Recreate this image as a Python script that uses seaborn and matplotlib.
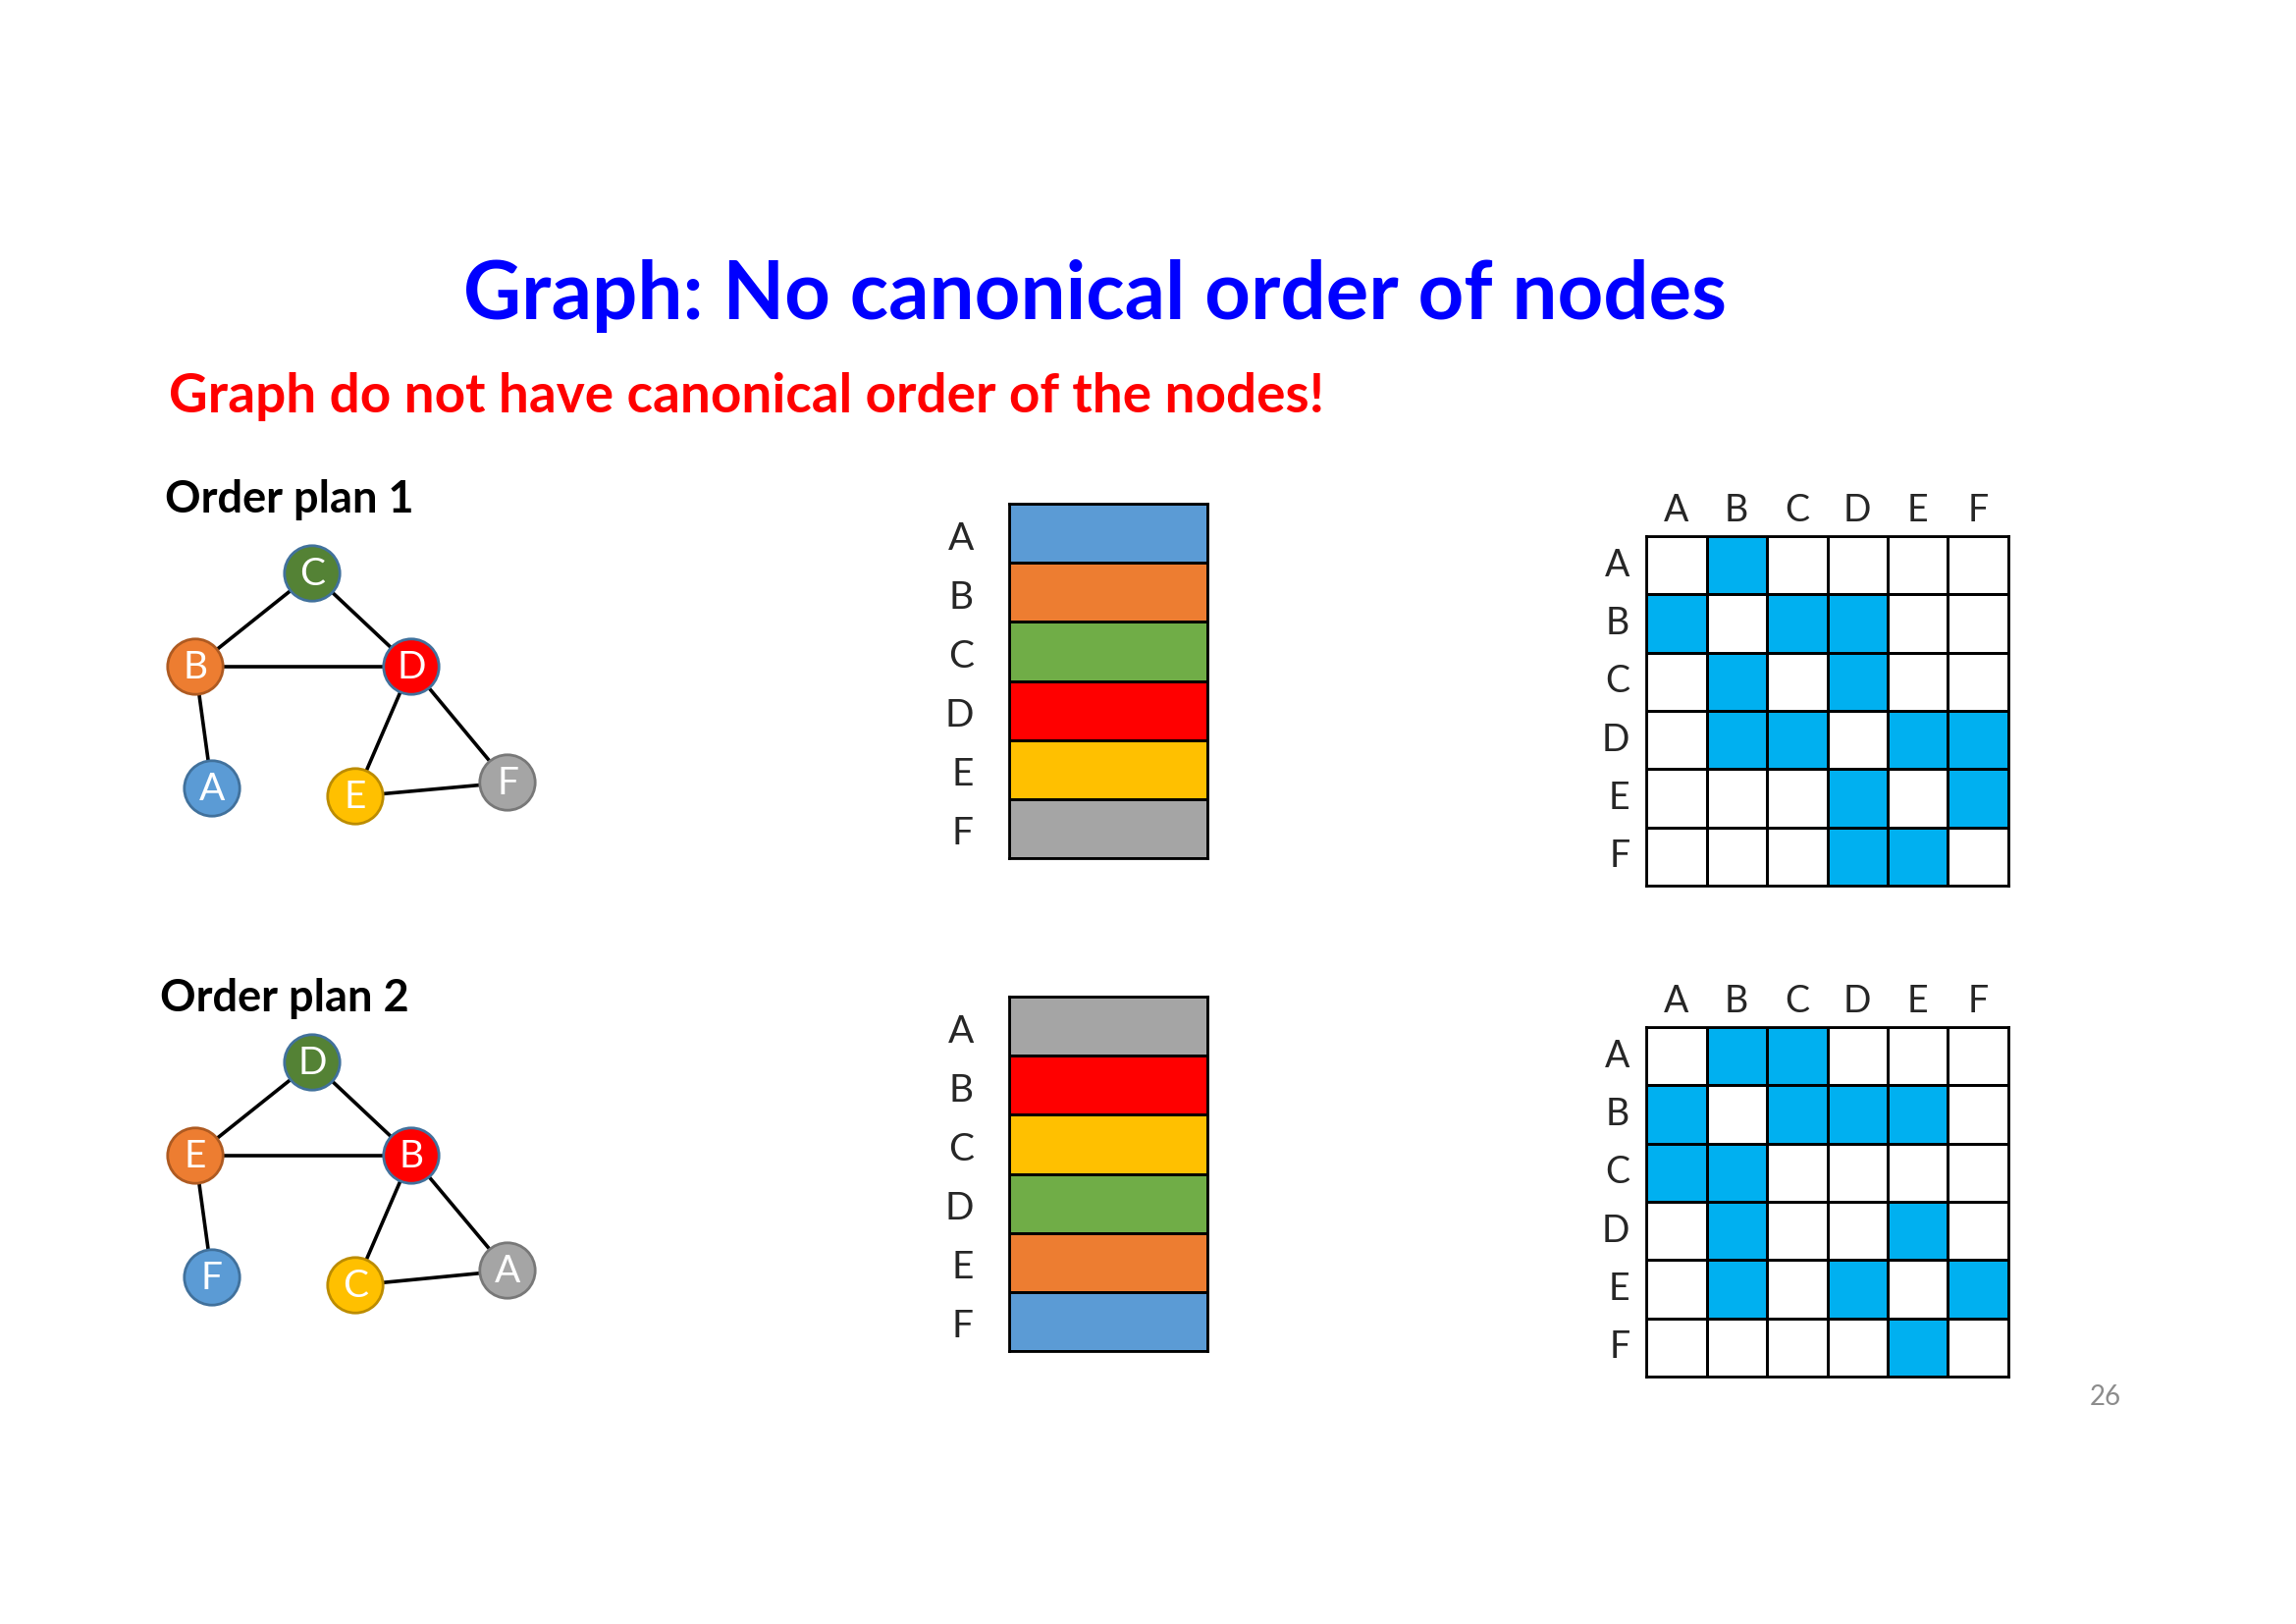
#!/usr/bin/env python3
"""
Slide: graph has no canonical node order (two orderings, feature stacks, adjacency matrices)
"""

import matplotlib
matplotlib.use('Agg')
import matplotlib.pyplot as plt
import matplotlib.transforms as mtransforms
from matplotlib.colors import ListedColormap
import seaborn as sns
import numpy as np
import pandas as pd

sns.set_theme(style='white')
plt.rcParams['font.family'] = ['Lato', 'DejaVu Sans']

W, H = 2339, 1654

# --- data ---------------------------------------------------------------
labels = ['A', 'B', 'C', 'D', 'E', 'F']

# node layout (same drawing for both plans, only the names change)
node_x = [318, 199, 419, 216, 362, 517]
node_y1 = [584, 679, 679, 803, 811, 797]
node_y2 = [1082, 1177, 1177, 1301, 1309, 1294]
node_fill = ['#548235', '#ED7D31', '#FF0000', '#5B9BD5', '#FFC000', '#A5A5A5']
node_edge = ['#41719C', '#AE5A21', '#41719C', '#41719C', '#BC8C00', '#787878']

names1 = ['C', 'B', 'D', 'A', 'E', 'F']
names2 = ['D', 'E', 'B', 'F', 'C', 'A']
edges1 = [('C', 'B'), ('C', 'D'), ('B', 'D'), ('B', 'A'), ('D', 'E'), ('D', 'F'), ('E', 'F')]
edges2 = [('D', 'E'), ('D', 'B'), ('E', 'B'), ('E', 'F'), ('B', 'C'), ('B', 'A'), ('C', 'A')]

# feature stacks (row A..F)
stack1 = ['#5B9BD5', '#ED7D31', '#70AD47', '#FF0000', '#FFC000', '#A5A5A5']
stack2 = ['#A5A5A5', '#FF0000', '#FFC000', '#70AD47', '#ED7D31', '#5B9BD5']

# adjacency matrices, rows/cols A..F
adj1 = [[0, 1, 0, 0, 0, 0],
        [1, 0, 1, 1, 0, 0],
        [0, 1, 0, 1, 0, 0],
        [0, 1, 1, 0, 1, 1],
        [0, 0, 0, 1, 0, 1],
        [0, 0, 0, 1, 1, 0]]
adj2 = [[0, 1, 1, 0, 0, 0],
        [1, 0, 1, 1, 1, 0],
        [1, 1, 0, 0, 0, 0],
        [0, 1, 0, 0, 1, 0],
        [0, 1, 0, 1, 0, 1],
        [0, 0, 0, 0, 1, 0]]

title = 'Graph: No canonical order of nodes'
subtitle = 'Graph do not have canonical order of the nodes!'


def box(x0, y0, x1, y1):
    """pixel box (top-left origin) -> figure fraction rect"""
    return [x0 / W, 1 - y1 / H, (x1 - x0) / W, (y1 - y0) / H]


def draw_graph(ax, names, ys, edges):
    pos = {n: (x, y) for n, x, y in zip(names, node_x, ys)}
    for a, b in edges:
        ax.plot([pos[a][0], pos[b][0]], [pos[a][1], pos[b][1]],
                color='black', lw=2.6, zorder=1, solid_capstyle='butt')
    df = pd.DataFrame({'x': node_x, 'y': ys, 'name': names})
    sns.scatterplot(data=df, x='x', y='y', hue='name',
                    palette=dict(zip(names, node_fill)), s=1650,
                    linewidth=2, legend=False, ax=ax, zorder=2)
    ax.collections[-1].set_edgecolors(node_edge)
    for n, x, y in zip(names, node_x, ys):
        ax.text(x, y + 1, n, color='white', fontsize=28, ha='center',
                va='center', zorder=3)


def outline(ax):
    for s in ax.spines.values():
        s.set_visible(True)
        s.set_linewidth(2)
        s.set_color('black')


def draw_stack(rect, colors):
    ax = fig.add_axes(rect)
    sns.heatmap(np.arange(6).reshape(6, 1), cmap=ListedColormap(colors),
                cbar=False, linewidths=2, linecolor='black',
                xticklabels=False, yticklabels=labels, ax=ax)
    ax.tick_params(axis='y', length=0, labelsize=28, pad=26, rotation=0)
    shift = mtransforms.ScaledTranslation(0, -4 / 72, fig.dpi_scale_trans)
    for t in ax.get_yticklabels():
        t.set_transform(t.get_transform() + shift)
    outline(ax)


def draw_matrix(rect, adj):
    ax = fig.add_axes(rect)
    sns.heatmap(np.array(adj), cmap=ListedColormap(['white', '#00B0F0']),
                vmin=0, vmax=1, cbar=False, linewidths=2, linecolor='black',
                xticklabels=labels, yticklabels=labels, ax=ax)
    ax.xaxis.tick_top()
    ax.tick_params(axis='x', length=0, labelsize=27, pad=6, rotation=0)
    ax.tick_params(axis='y', length=0, labelsize=27, pad=12, rotation=0)
    outline(ax)


fig = plt.figure(figsize=(W / 100, H / 100), dpi=100)
bg = fig.add_axes([0, 0, 1, 1])

draw_graph(bg, names1, node_y1, edges1)
draw_graph(bg, names2, node_y2, edges2)
bg.set_xlim(0, W)
bg.set_ylim(H, 0)
bg.axis('off')

bg.text(472, 325, title, color='#0000FF', fontsize=58.7, fontweight='bold',
        ha='left', va='baseline')
bg.text(172, 420, subtitle, color='#FF0000', fontsize=39.5, fontweight='bold',
        ha='left', va='baseline')
bg.text(168, 522, 'Order plan 1', color='black', fontsize=32.5, fontweight='bold',
        ha='left', va='baseline')
bg.text(163, 1030, 'Order plan 2', color='black', fontsize=32.5, fontweight='bold',
        ha='left', va='baseline')
bg.text(2145, 1423, '26', color='#8C8C8C', fontsize=20, ha='center', va='center')

draw_stack(box(1028, 513, 1230, 874), stack1)
draw_stack(box(1028, 1015, 1230, 1376), stack2)
draw_matrix(box(1677, 546, 2046, 902), adj1)
draw_matrix(box(1677, 1046, 2046, 1402), adj2)

plt.savefig('out.png', dpi=100)
